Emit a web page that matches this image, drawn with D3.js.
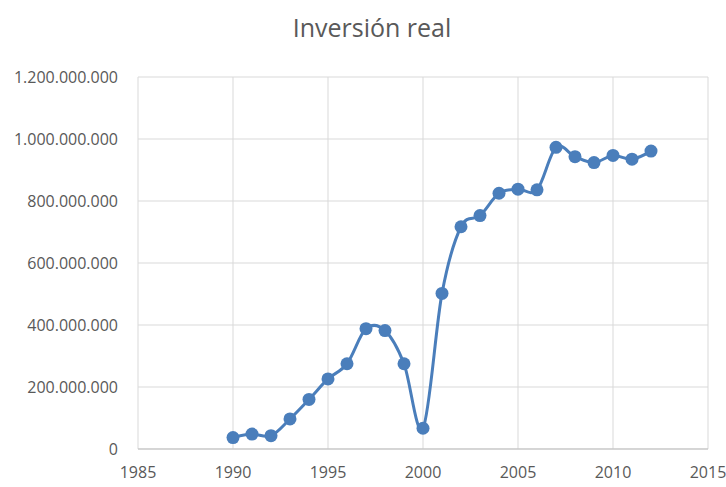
<!DOCTYPE html>
<html>
<head>
<meta charset="utf-8">
<script src="https://cdn.jsdelivr.net/npm/d3@7"></script>
<style>
  body { margin: 0; background: #fff; }
  text { font-family: "Open Sans", sans-serif; }
</style>
</head>
<body>
<div id="chart"></div>
<script>
const years = [1990,1991,1992,1993,1994,1995,1996,1997,1998,1999,2000,2001,2002,2003,2004,2005,2006,2007,2008,2009,2010,2011,2012];
const inversion = [37e6,48e6,43e6,97e6,160e6,226e6,275e6,388e6,382e6,275e6,67e6,502e6,717e6,753e6,825e6,838e6,836e6,973e6,943e6,924e6,947e6,935e6,961e6];
const xTicks = [1985,1990,1995,2000,2005,2010,2015];
const yTicks = [0,200e6,400e6,600e6,800e6,1000e6,1200e6];

const width = 726, height = 487;
const margin = {top: 77, right: 18, bottom: 38, left: 138};

const svg = d3.select("#chart").append("svg")
  .attr("width", width)
  .attr("height", height);

const x = d3.scaleLinear().domain([1985, 2015]).range([margin.left, width - margin.right]);
const y = d3.scaleLinear().domain([0, 1200e6]).range([height - margin.bottom, margin.top]);

// dotted thousands like the original
const fmt = d => d3.format(",")(d).replace(/,/g, ".");

// gridlines
svg.append("g")
  .selectAll("line")
  .data(yTicks)
  .join("line")
  .attr("x1", margin.left).attr("x2", width - margin.right)
  .attr("y1", d => y(d)).attr("y2", d => y(d))
  .attr("stroke", "#d9d9d9");

svg.append("g")
  .selectAll("line")
  .data(xTicks)
  .join("line")
  .attr("x1", d => x(d)).attr("x2", d => x(d))
  .attr("y1", margin.top).attr("y2", height - margin.bottom)
  .attr("stroke", "#d9d9d9");

// bottom axis line
svg.append("line")
  .attr("x1", margin.left).attr("x2", width - margin.right)
  .attr("y1", y(0)).attr("y2", y(0))
  .attr("stroke", "#bfbfbf");

// tick labels
svg.append("g")
  .selectAll("text")
  .data(yTicks)
  .join("text")
  .attr("x", margin.left - 20)
  .attr("y", d => y(d))
  .attr("dy", "0.35em")
  .attr("text-anchor", "end")
  .attr("font-size", 16)
  .attr("fill", "#595959")
  .text(fmt);

svg.append("g")
  .selectAll("text")
  .data(xTicks)
  .join("text")
  .attr("x", d => x(d))
  .attr("y", height - 9)
  .attr("text-anchor", "middle")
  .attr("font-size", 16)
  .attr("fill", "#595959")
  .text(d => d);

// title
svg.append("text")
  .attr("x", 372)
  .attr("y", 37)
  .attr("text-anchor", "middle")
  .attr("font-size", 25)
  .attr("fill", "#595959")
  .text("Inversión real");

// series
const data = years.map((yr, i) => ({year: yr, value: inversion[i]}));

const line = d3.line()
  .x(d => x(d.year))
  .y(d => y(d.value))
  .curve(d3.curveCardinal.tension(0));

svg.append("path")
  .datum(data)
  .attr("d", line)
  .attr("fill", "none")
  .attr("stroke", "#4a7ebb")
  .attr("stroke-width", 3);

svg.append("g")
  .selectAll("circle")
  .data(data)
  .join("circle")
  .attr("cx", d => x(d.year))
  .attr("cy", d => y(d.value))
  .attr("r", 6.5)
  .attr("fill", "#4a7ebb");
</script>
</body>
</html>
